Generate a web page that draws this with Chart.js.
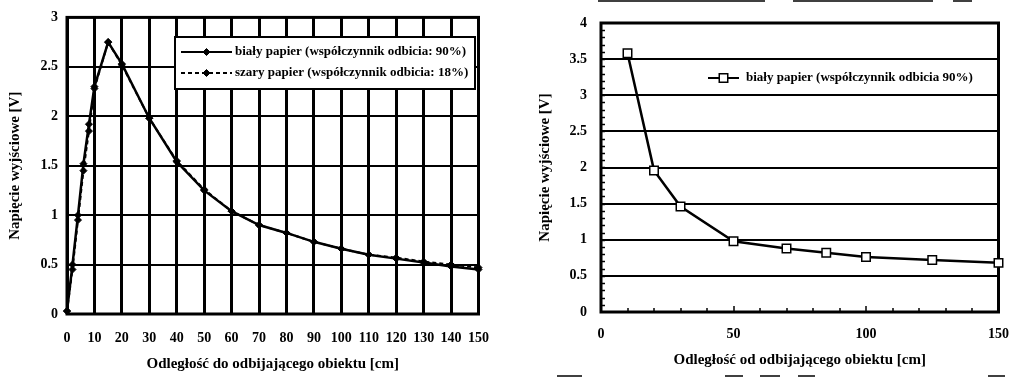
<!DOCTYPE html>
<html><head><meta charset="utf-8">
<script src="https://cdn.jsdelivr.net/npm/chart.js@4/dist/chart.umd.min.js"></script>
<style>
html,body{margin:0;padding:0;background:#fff;width:1023px;height:381px;overflow:hidden}
#c1{position:absolute;left:0;top:0}
#c2{position:absolute;left:520px;top:0}
</style></head><body>
<canvas id="c1" width="505" height="381"></canvas>
<canvas id="c2" width="503" height="381"></canvas>
<script>
// ---------- data: left chart ----------
const leftTitleX = 'Odległość do odbijającego obiektu [cm]';
const leftTitleY = 'Napięcie wyjściowe [V]';
const leftLabelWhite = 'biały papier (współczynnik odbicia: 90%)';
const leftLabelGray = 'szary papier (współczynnik odbicia: 18%)';
const leftX = [0, 2, 4, 6, 8, 10, 15, 20, 30, 40, 50, 60, 70, 80, 90, 100, 110, 120, 130, 140, 150];
const leftWhite = [0.03, 0.5, 1.0, 1.52, 1.92, 2.3, 2.75, 2.53, 1.98, 1.54, 1.25, 1.04, 0.9, 0.82, 0.73, 0.66, 0.6, 0.56, 0.52, 0.48, 0.45];
const leftGray = [0.03, 0.45, 0.95, 1.45, 1.85, 2.28, 2.75, 2.52, 1.98, 1.55, 1.26, 1.04, 0.9, 0.82, 0.73, 0.66, 0.6, 0.57, 0.53, 0.5, 0.47];
const leftXTicks = [0, 10, 20, 30, 40, 50, 60, 70, 80, 90, 100, 110, 120, 130, 140, 150];
const leftYTicks = [0, 0.5, 1, 1.5, 2, 2.5, 3];

// ---------- data: right chart ----------
const rightTitleX = 'Odległość od odbijającego obiektu [cm]';
const rightTitleY = 'Napięcie wyjściowe [V]';
const rightLabel = 'biały papier (współczynnik odbicia 90%)';
const rightX = [10, 20, 30, 50, 70, 85, 100, 125, 150];
const rightY = [3.58, 1.96, 1.46, 0.98, 0.88, 0.82, 0.76, 0.72, 0.68];
const rightXTicks = [0, 50, 100, 150];
const rightYTicks = [0, 0.5, 1, 1.5, 2, 2.5, 3, 3.5, 4];
const rightXMinor = [10, 20, 30, 40, 60, 70, 80, 90, 110, 120, 130, 140];

const FONT = "'Liberation Serif', 'Times New Roman', serif";
const pts = (xs, ys) => xs.map((x, i) => ({x, y: ys[i]}));
const fmt = v => String(v);

const framePlugin = {
  id: 'frame',
  beforeDatasetsDraw(chart, args, o) {
    const {ctx, chartArea: a} = chart;
    ctx.save();
    ctx.strokeStyle = '#000';
    ctx.lineWidth = o.lw || 3;
    ctx.strokeRect(a.left, a.top, a.right - a.left, a.bottom - a.top);
    if (o.minor) o.minor(chart, ctx);
    ctx.restore();
  }
};

const legendPlugin = {
  id: 'boxLegend',
  afterDraw(chart, args, o) {
    const ctx = chart.ctx;
    ctx.save();
    if (o.box) {
      ctx.fillStyle = '#fff';
      ctx.fillRect(o.box[0], o.box[1], o.box[2], o.box[3]);
      ctx.strokeStyle = '#000';
      ctx.lineWidth = 2;
      ctx.strokeRect(o.box[0], o.box[1], o.box[2], o.box[3]);
    }
    chart.data.datasets.forEach((ds, i) => {
      const y = o.y0 + i * o.dy;
      ctx.strokeStyle = ds.borderColor;
      ctx.lineWidth = 2;
      ctx.setLineDash(ds.borderDash || []);
      ctx.beginPath();
      ctx.moveTo(o.x0, y);
      ctx.lineTo(o.x1, y);
      ctx.stroke();
      ctx.setLineDash([]);
      ctx.fillStyle = ds.pointBackgroundColor;
      ctx.strokeStyle = ds.pointBorderColor;
      ctx.lineWidth = ds.pointBorderWidth;
      Chart.helpers.drawPoint(ctx, {pointStyle: ds.pointStyle, radius: ds.pointRadius, rotation: 0, borderWidth: ds.pointBorderWidth}, (o.x0 + o.x1) / 2, y);
      ctx.fillStyle = '#000';
      ctx.font = 'bold 13px ' + FONT;
      ctx.textBaseline = 'middle';
      ctx.textAlign = 'left';
      ctx.fillText(ds.label, o.tx, y);
    });
    if (o.artifacts) {
      ctx.strokeStyle = '#000';
      ctx.lineWidth = 1.5;
      o.artifacts.forEach(s => { ctx.beginPath(); ctx.moveTo(s[0], s[1]); ctx.lineTo(s[2], s[1]); ctx.stroke(); });
    }
    ctx.restore();
  }
};

const tickFont = {family: FONT, size: 14, weight: 'bold'};
const titleFont = {family: FONT, size: 15, weight: 'bold'};

// ---------- left chart ----------
new Chart(document.getElementById('c1'), {
  type: 'line',
  data: {
    datasets: [
      {label: leftLabelWhite, data: pts(leftX, leftWhite), borderColor: '#000', borderWidth: 2.5,
       pointStyle: 'rectRot', pointRadius: 3.5, pointBackgroundColor: '#000', pointBorderColor: '#000', pointBorderWidth: 1, tension: 0},
      {label: leftLabelGray, data: pts(leftX, leftGray), borderColor: '#000', borderWidth: 2, borderDash: [4, 3],
       pointStyle: 'rectRot', pointRadius: 3.5, pointBackgroundColor: '#000', pointBorderColor: '#000', pointBorderWidth: 1, tension: 0}
    ]
  },
  options: {
    responsive: false, animation: false, clip: false,
    layout: {padding: {left: 0, right: 22, top: 17, bottom: 8}},
    plugins: {
      legend: {display: false}, tooltip: {enabled: false},
      frame: {lw: 3},
      boxLegend: {box: [175, 37, 300, 52], x0: 181, x1: 232, tx: 235, y0: 52, dy: 21}
    },
    scales: {
      x: {
        type: 'linear', min: 0, max: 150,
        afterBuildTicks: s => { s.ticks = leftXTicks.map(v => ({value: v})); },
        afterFit: s => { s.height = 59; },
        grid: {color: '#000', lineWidth: 3, drawTicks: false},
        border: {display: false},
        ticks: {color: '#000', font: tickFont, padding: 16, maxRotation: 0, autoSkip: false, callback: fmt},
        title: {display: true, text: leftTitleX, color: '#000', font: titleFont, padding: {top: 0, bottom: 0}}
      },
      y: {
        type: 'linear', min: 0, max: 3,
        afterBuildTicks: s => { s.ticks = leftYTicks.map(v => ({value: v})); },
        afterFit: s => { s.width = 67; },
        grid: {color: '#000', lineWidth: 2, drawTicks: false},
        border: {display: false},
        ticks: {color: '#000', font: tickFont, padding: 9, callback: fmt},
        title: {display: true, text: leftTitleY, color: '#000', font: titleFont, padding: {top: 6, bottom: 0}}
      }
    }
  },
  plugins: [framePlugin, legendPlugin]
});

// ---------- right chart ----------
new Chart(document.getElementById('c2'), {
  type: 'line',
  data: {
    datasets: [
      {label: rightLabel, data: pts(rightX, rightY), borderColor: '#000', borderWidth: 2.5,
       pointStyle: 'rect', pointRadius: 6, pointBackgroundColor: '#fff', pointBorderColor: '#000', pointBorderWidth: 1.5, tension: 0}
    ]
  },
  options: {
    responsive: false, animation: false, clip: false,
    layout: {padding: {left: 0, right: 23, top: 23, bottom: 12}},
    plugins: {
      legend: {display: false}, tooltip: {enabled: false},
      frame: {lw: 3, minor: (chart, ctx) => {
        const a = chart.chartArea, sx = chart.scales.x, sy = chart.scales.y;
        ctx.lineWidth = 1.5;
        for (let v = 0.1; v < 4; v += 0.1) {
          const y = Math.round(sy.getPixelForValue(v)) + 0.5;
          ctx.beginPath(); ctx.moveTo(a.left, y); ctx.lineTo(a.left + 4, y); ctx.stroke();
        }
        rightXMinor.concat([50, 100]).forEach(v => {
          const x = Math.round(sx.getPixelForValue(v));
          const len = (v % 50 === 0) ? 6 : 4;
          ctx.beginPath(); ctx.moveTo(x, a.bottom); ctx.lineTo(x, a.bottom - len); ctx.stroke();
        });
      }},
      boxLegend: {x0: 188, x1: 219, tx: 226, y0: 78, dy: 21,
        artifacts: [[78, 1, 245], [273, 1, 413], [433, 1, 452], [37, 376, 62], [205, 376, 223], [240, 376, 260], [278, 376, 295], [468, 376, 485]]}
    },
    scales: {
      x: {
        type: 'linear', min: 0, max: 150,
        afterBuildTicks: s => { s.ticks = rightXTicks.map(v => ({value: v})); },
        afterFit: s => { s.height = 57; },
        grid: {display: false, drawTicks: false},
        border: {display: false},
        ticks: {color: '#000', font: tickFont, padding: 14, maxRotation: 0, autoSkip: false, callback: fmt},
        title: {display: true, text: rightTitleX, color: '#000', font: titleFont, padding: {top: 0, bottom: 0}}
      },
      y: {
        type: 'linear', min: 0, max: 4,
        afterBuildTicks: s => { s.ticks = rightYTicks.map(v => ({value: v})); },
        afterFit: s => { s.width = 81; },
        grid: {color: '#000', lineWidth: 2, drawTicks: false},
        border: {display: false},
        ticks: {color: '#000', font: tickFont, padding: 14, callback: fmt},
        title: {display: true, text: rightTitleY, color: '#000', font: titleFont, padding: {top: 16, bottom: 0}}
      }
    }
  },
  plugins: [framePlugin, legendPlugin]
});
</script>
</body></html>
